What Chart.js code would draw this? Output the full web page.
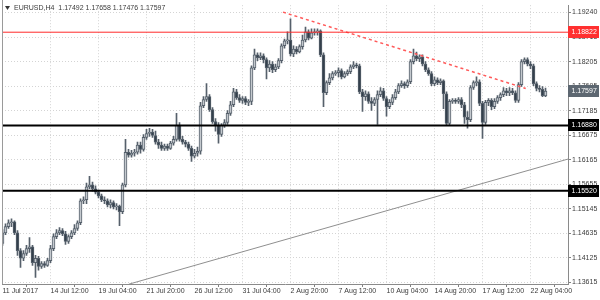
<!DOCTYPE html>
<html><head><meta charset="utf-8">
<script src="https://cdn.jsdelivr.net/npm/chart.js@4/dist/chart.umd.min.js"></script>
<style>html,body{margin:0;padding:0;background:#fff}#wrap{width:600px;height:300px}</style>
</head><body><div id="wrap"><canvas id="c" width="600" height="300"></canvas></div>
<script>
const symbolTitle = 'EURUSD,H4';
const opens = [
1.1442,1.1464,1.1477,1.1485,1.1487,1.1464,1.1427,1.1411,1.1421,1.1431,
1.1435,1.1402,1.1411,1.1394,1.1400,1.1396,1.1406,1.1431,1.1456,1.1464,
1.1469,1.1462,1.1446,1.1456,1.1464,1.1473,1.1485,1.1531,1.1533,1.1560,
1.1564,1.1556,1.1549,1.1541,1.1533,1.1531,1.1522,1.1527,1.1518,1.1520,
1.1508,1.1564,1.1632,1.1626,1.1630,1.1632,1.1647,1.1638,1.1663,1.1671,
1.1674,1.1667,1.1653,1.1647,1.1640,1.1645,1.1640,1.1651,1.1659,1.1688,
1.1659,1.1653,1.1649,1.1640,1.1624,1.1630,1.1634,1.1729,1.1742,1.1748,
1.1721,1.1696,1.1688,1.1669,1.1688,1.1694,1.1713,1.1731,1.1758,1.1746,
1.1740,1.1744,1.1736,1.1738,1.1808,1.1835,1.1829,1.1833,1.1825,1.1808,
1.1816,1.1804,1.1810,1.1823,1.1854,1.1864,1.1866,1.1837,1.1847,1.1841,
1.1852,1.1866,1.1883,1.1870,1.1881,1.1883,1.1885,1.1835,1.1756,1.1777,
1.1787,1.1796,1.1798,1.1802,1.1789,1.1796,1.1800,1.1810,1.1814,1.1812,
1.1758,1.1748,1.1754,1.1738,1.1734,1.1742,1.1752,1.1760,1.1744,1.1727,
1.1736,1.1746,1.1758,1.1771,1.1775,1.1771,1.1779,1.1821,1.1833,1.1827,
1.1831,1.1816,1.1804,1.1796,1.1775,1.1783,1.1777,1.1781,1.1754,1.1692,
1.1738,1.1740,1.1738,1.1742,1.1731,1.1705,1.1700,1.1767,1.1777,1.1779,
1.1734,1.1694,1.1736,1.1740,1.1727,1.1738,1.1746,1.1752,1.1760,1.1756,
1.1760,1.1756,1.1740,1.1773,1.1821,1.1825,1.1816,1.1812,1.1775,1.1765,
1.1763,1.17492];
const highs = [
1.1471,1.1483,1.1491,1.1493,1.1489,1.1469,1.1431,1.1427,1.1438,1.1454,
1.1438,1.1417,1.1415,1.1404,1.1404,1.1411,1.1438,1.1462,1.1471,1.1475,
1.1473,1.1467,1.1460,1.1469,1.1481,1.1489,1.1535,1.1539,1.1568,1.1582,
1.1570,1.1562,1.1553,1.1545,1.1539,1.1535,1.1533,1.1531,1.1525,1.1522,
1.1568,1.1659,1.1638,1.1636,1.1638,1.1653,1.1653,1.1669,1.1680,1.1682,
1.1680,1.1676,1.1659,1.1653,1.1649,1.1649,1.1655,1.1665,1.1713,1.1694,
1.1665,1.1657,1.1653,1.1645,1.1638,1.1643,1.1736,1.1748,1.1775,1.1752,
1.1725,1.1702,1.1694,1.1692,1.1700,1.1719,1.1738,1.1765,1.1763,1.1752,
1.1748,1.1748,1.1742,1.1812,1.1847,1.1839,1.1839,1.1837,1.1829,1.1823,
1.1821,1.1816,1.1827,1.1858,1.1868,1.1883,1.1910,1.1854,1.1852,1.1856,
1.1876,1.1893,1.1887,1.1889,1.1889,1.1889,1.1887,1.1839,1.1781,1.1796,
1.1800,1.1802,1.1808,1.1806,1.1800,1.1804,1.1814,1.1821,1.1818,1.1816,
1.1763,1.1760,1.1758,1.1746,1.1746,1.1760,1.1767,1.1765,1.1748,1.1742,
1.1752,1.1763,1.1775,1.1781,1.1779,1.1783,1.1825,1.1847,1.1841,1.1835,
1.1835,1.1821,1.1808,1.1800,1.1789,1.1787,1.1785,1.1783,1.1758,1.1742,
1.1744,1.1744,1.1746,1.1746,1.1736,1.1717,1.1771,1.1781,1.1789,1.1783,
1.1738,1.1740,1.1744,1.1744,1.1744,1.1750,1.1756,1.1767,1.1765,1.1767,
1.1765,1.1760,1.1777,1.1825,1.1829,1.1829,1.1821,1.1816,1.1779,1.1771,
1.1769,1.17658];
const lows = [
1.1438,1.1460,1.1473,1.1477,1.1460,1.1417,1.1392,1.1406,1.1417,1.1423,
1.1396,1.1371,1.1386,1.1390,1.1392,1.1394,1.1402,1.1427,1.1452,1.1460,
1.1458,1.1440,1.1442,1.1452,1.1460,1.1469,1.1481,1.1525,1.1525,1.1556,
1.1551,1.1545,1.1537,1.1529,1.1525,1.1518,1.1516,1.1514,1.1512,1.1479,
1.1504,1.1560,1.1622,1.1622,1.1624,1.1628,1.1630,1.1634,1.1659,1.1665,
1.1663,1.1649,1.1640,1.1636,1.1636,1.1636,1.1638,1.1647,1.1655,1.1655,
1.1649,1.1643,1.1636,1.1613,1.1620,1.1624,1.1628,1.1725,1.1738,1.1717,
1.1692,1.1676,1.1651,1.1665,1.1684,1.1690,1.1709,1.1727,1.1742,1.1736,
1.1734,1.1731,1.1729,1.1731,1.1804,1.1823,1.1825,1.1818,1.1785,1.1800,
1.1798,1.1800,1.1806,1.1818,1.1849,1.1858,1.1833,1.1831,1.1837,1.1839,
1.1847,1.1862,1.1866,1.1868,1.1876,1.1876,1.1831,1.1727,1.1752,1.1773,
1.1783,1.1792,1.1789,1.1785,1.1787,1.1792,1.1796,1.1806,1.1808,1.1754,
1.1717,1.1740,1.1734,1.1719,1.1729,1.1690,1.1748,1.1740,1.1707,1.1723,
1.1731,1.1742,1.1754,1.1767,1.1765,1.1767,1.1775,1.1816,1.1823,1.1821,
1.1812,1.1800,1.1792,1.1771,1.1771,1.1773,1.1773,1.1723,1.1688,1.1688,
1.1734,1.1734,1.1734,1.1725,1.1692,1.1682,1.1696,1.1763,1.1771,1.1729,
1.1661,1.1690,1.1729,1.1721,1.1723,1.1734,1.1740,1.1748,1.1750,1.1750,
1.1752,1.1736,1.1736,1.1769,1.1816,1.1812,1.1806,1.1771,1.1760,1.1758,
1.1748,1.17476];
const closes = [
1.1464,1.1477,1.1485,1.1487,1.1464,1.1427,1.1411,1.1421,1.1431,1.1435,
1.1402,1.1411,1.1394,1.1400,1.1396,1.1406,1.1431,1.1456,1.1464,1.1469,
1.1462,1.1446,1.1456,1.1464,1.1473,1.1485,1.1531,1.1533,1.1560,1.1564,
1.1556,1.1549,1.1541,1.1533,1.1531,1.1522,1.1527,1.1518,1.1520,1.1508,
1.1564,1.1632,1.1626,1.1630,1.1632,1.1647,1.1638,1.1663,1.1671,1.1674,
1.1667,1.1653,1.1647,1.1640,1.1645,1.1640,1.1651,1.1659,1.1688,1.1659,
1.1653,1.1649,1.1640,1.1624,1.1630,1.1634,1.1729,1.1742,1.1748,1.1721,
1.1696,1.1688,1.1669,1.1688,1.1694,1.1713,1.1731,1.1758,1.1746,1.1740,
1.1744,1.1736,1.1738,1.1808,1.1835,1.1829,1.1833,1.1825,1.1808,1.1816,
1.1804,1.1810,1.1823,1.1854,1.1864,1.1866,1.1837,1.1847,1.1841,1.1852,
1.1866,1.1883,1.1870,1.1881,1.1883,1.1885,1.1835,1.1756,1.1777,1.1787,
1.1796,1.1798,1.1802,1.1789,1.1796,1.1800,1.1810,1.1814,1.1812,1.1758,
1.1748,1.1754,1.1738,1.1734,1.1742,1.1752,1.1760,1.1744,1.1727,1.1736,
1.1746,1.1758,1.1771,1.1775,1.1771,1.1779,1.1821,1.1833,1.1827,1.1831,
1.1816,1.1804,1.1796,1.1775,1.1783,1.1777,1.1781,1.1754,1.1692,1.1738,
1.1740,1.1738,1.1742,1.1731,1.1705,1.1700,1.1767,1.1777,1.1779,1.1734,
1.1694,1.1736,1.1740,1.1727,1.1738,1.1746,1.1752,1.1760,1.1756,1.1760,
1.1756,1.1740,1.1773,1.1821,1.1825,1.1816,1.1812,1.1775,1.1765,1.1763,
1.1750,1.17597];
const xTickIndex = [0,16,32,48,64,80,96,112,128,144,160,176];
const xTickLabels = ['11 Jul 2017','14 Jul 12:00','19 Jul 04:00','21 Jul 20:00','26 Jul 12:00','31 Jul 04:00','2 Aug 20:00','7 Aug 12:00','10 Aug 04:00','14 Aug 20:00','17 Aug 12:00','22 Aug 04:00'];
const xGridIndex = [8,24,40,56,72,88,104,120,136,152,168,184];
const yTickValues = [1.13615,1.14125,1.14635,1.15145,1.15655,1.16165,1.16675,1.17185,1.17695,1.18205,1.18715,1.19240];
const resistanceLevel = 1.18822;
const supportLevels = [1.16880, 1.15520];
const resistanceTrend = [[93.5,1.1924],[174.4,1.1765]];
const supportTrend = [[42.1,1.1357],[188.6,1.1618]];

const X_MIN = -1/6, X_MAX = 188.5, Y_MIN = 1.13574, Y_MAX = 1.19385;
const FONT = '"Liberation Sans", Arial, sans-serif';
const TXT = '#3a3a3a';
const bullFill = '#c4c9ce', bearFill = '#34404c', candleEdge = '#56606b';
const idx = opens.map((_, i) => i);

const wickData = idx.map(i => ({x: i, y: [lows[i], highs[i]]}));
const bodyData = idx.map(i => ({x: i, y: [opens[i], closes[i]]}));
const bodyColors = idx.map(i => closes[i] >= opens[i] ? bullFill : bearFill);
const lvl = v => [{x: X_MIN - 1, y: v}, {x: X_MAX + 1, y: v}];
const seg = s => s.map(p => ({x: p[0], y: p[1]}));

const overlay = {
  id: 'overlay',
  beforeDraw(chart) {
    const ctx = chart.ctx;
    ctx.save();
    ctx.fillStyle = '#fff';
    ctx.fillRect(0, 0, chart.width, chart.height);
    ctx.restore();
  },
  afterDraw(chart) {
    const ctx = chart.ctx, ys = chart.scales.y, ca = chart.chartArea;
    ctx.save();
    ctx.strokeStyle = '#9a9a9a';
    ctx.lineWidth = 1;
    ctx.beginPath(); ctx.moveTo(2.5, 0); ctx.lineTo(2.5, ca.bottom); ctx.stroke();
    ctx.fillStyle = '#333';
    ctx.beginPath(); ctx.moveTo(5, 6); ctx.lineTo(10, 6); ctx.lineTo(7.5, 10); ctx.closePath(); ctx.fill();
    ctx.font = '7px ' + FONT;
    ctx.textBaseline = 'middle';
    ctx.textAlign = 'left';
    const last = opens.length - 1;
    ctx.fillStyle = TXT;
    ctx.fillText(symbolTitle + '  ' + [opens[last], highs[last], lows[last], closes[last]].map(v => v.toFixed(5)).join(' '), 14, 8.5);
    const boxes = [[resistanceLevel, '#ff3030'], [supportLevels[0], '#000'], [supportLevels[1], '#000'], [closes[last], '#5d6771']];
    for (const [v, col] of boxes) {
      const y = Math.round(ys.getPixelForValue(v));
      ctx.fillStyle = col;
      ctx.fillRect(ca.right, y - 6, 31, 12);
      ctx.fillStyle = '#fff';
      ctx.fillText(v.toFixed(5), ca.right + 3.5, y + 0.5);
    }
    ctx.restore();
  }
};

new Chart(document.getElementById('c'), {
  type: 'bar',
  data: {
    datasets: [
      {type: 'line', data: lvl(resistanceLevel), borderColor: '#ff2a2a', borderWidth: 1, pointRadius: 0, order: 0},
      {type: 'line', data: lvl(supportLevels[0]), borderColor: '#000', borderWidth: 2, pointRadius: 0, order: 0},
      {type: 'line', data: lvl(supportLevels[1]), borderColor: '#000', borderWidth: 2, pointRadius: 0, order: 0},
      {type: 'line', data: seg(resistanceTrend), borderColor: '#ff5a5a', borderWidth: 1.5, borderDash: [3, 3], pointRadius: 0, order: 0},
      {type: 'line', data: seg(supportTrend), borderColor: '#8f8f8f', borderWidth: 1, pointRadius: 0, order: 0},
      {type: 'bar', data: bodyData, backgroundColor: bodyColors, borderColor: candleEdge, borderWidth: 1, borderSkipped: false, barThickness: 3, minBarLength: 1, grouped: false, order: 1},
      {type: 'bar', data: wickData, backgroundColor: candleEdge, barThickness: 1, grouped: false, order: 2}
    ]
  },
  options: {
    responsive: false, animation: false, devicePixelRatio: 1,
    layout: {padding: {left: 2, top: 3, right: 0, bottom: 0}},
    plugins: {legend: {display: false}, tooltip: {enabled: false}, title: {display: false}},
    scales: {
      x: {
        type: 'linear', position: 'bottom', min: X_MIN, max: X_MAX, offset: false,
        afterBuildTicks: s => { s.ticks = xTickIndex.map(v => ({value: v})); },
        afterFit: s => { s.height = 16; },
        ticks: {callback: (v, i) => xTickLabels[i], align: 'start', maxRotation: 0, minRotation: 0, autoSkip: false, padding: 0, color: TXT, font: {family: FONT, size: 7}},
        grid: {drawOnChartArea: false, drawTicks: true, tickLength: 3, tickColor: '#808080'},
        border: {display: true, color: '#8a8a8a', width: 1}
      },
      xg: {
        type: 'linear', position: 'bottom', min: X_MIN, max: X_MAX, offset: false,
        afterBuildTicks: s => { s.ticks = xGridIndex.map(v => ({value: v})); },
        afterFit: s => { s.height = 0; },
        ticks: {display: false},
        grid: {drawTicks: false, color: '#d4d4d4', lineWidth: 1},
        border: {display: false, dash: [1, 2]}
      },
      y: {
        type: 'linear', position: 'right', min: Y_MIN, max: Y_MAX,
        afterBuildTicks: s => { s.ticks = yTickValues.map(v => ({value: v})); },
        afterFit: s => { s.width = 32; },
        ticks: {callback: v => Number(v).toFixed(5), autoSkip: false, padding: 1, color: TXT, font: {family: FONT, size: 7}},
        grid: {drawTicks: true, tickLength: 3, tickColor: '#808080', color: '#d4d4d4', lineWidth: 1},
        border: {display: true, color: '#8a8a8a', width: 1, dash: [1, 2]}
      }
    }
  },
  plugins: [overlay]
});
</script>
</body></html>
